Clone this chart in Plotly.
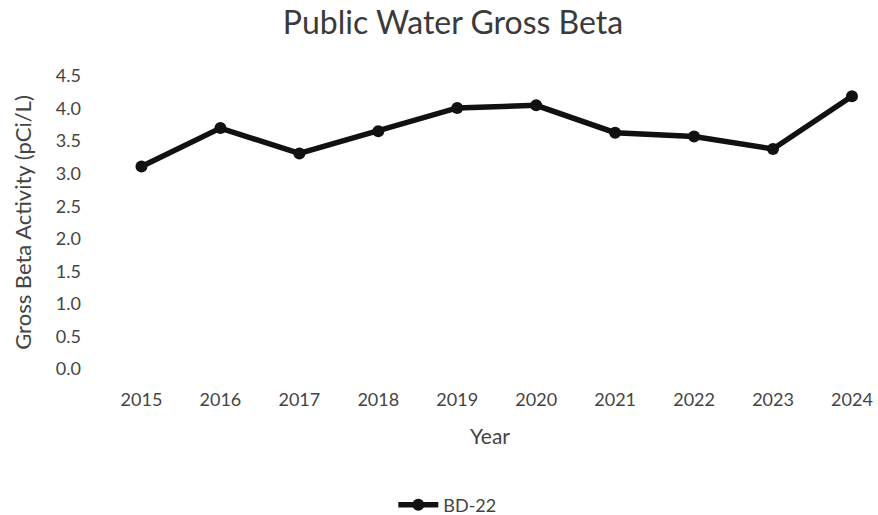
import plotly.graph_objects as go

# Annual gross beta results for public water sampling station BD-22
years = [2015, 2016, 2017, 2018, 2019, 2020, 2021, 2022, 2023, 2024]
gross_beta = [3.11, 3.70, 3.31, 3.65, 4.01, 4.05, 3.63, 3.57, 3.38, 4.19]
series_name = "BD-22"
y_ticks = [0.0, 0.5, 1.0, 1.5, 2.0, 2.5, 3.0, 3.5, 4.0, 4.5]

label_color = "#444444"
font_family = "Lato, 'Open Sans', sans-serif"

fig = go.Figure()
fig.add_trace(go.Scatter(
    x=years,
    y=gross_beta,
    mode="lines+markers",
    name=series_name,
    line=dict(color="#111111", width=5.5),
    marker=dict(color="#111111", size=12),
))

fig.update_layout(
    width=878,
    height=515,
    paper_bgcolor="white",
    plot_bgcolor="white",
    margin=dict(l=102, r=0, t=76, b=146, autoexpand=False),
    title=dict(
        text="Public Water Gross Beta",
        x=453 / 878,
        xanchor="center",
        y=1 - 23 / 515,
        yanchor="middle",
        font=dict(family=font_family, size=32, color="#3a3a3a"),
    ),
    font=dict(family=font_family, size=18, color=label_color),
    showlegend=True,
    legend=dict(
        orientation="h",
        x=0.445,
        xanchor="center",
        y=-0.464,
        yanchor="middle",
        font=dict(size=18, color=label_color),
        itemwidth=40,
    ),
)

fig.update_xaxes(
    range=[2014.5, 2024.33],
    tickvals=years,
    ticktext=[str(y) for y in years],
    showgrid=False,
    zeroline=False,
    showline=False,
    ticks="",
    ticklabelstandoff=18,
    automargin=False,
    title=dict(text="Year", font=dict(size=21, color=label_color), standoff=20),
)

fig.update_yaxes(
    range=[0, 4.5],
    tickvals=y_ticks,
    ticktext=[f"{v:.1f}" for v in y_ticks],
    showgrid=False,
    zeroline=False,
    showline=False,
    ticks="",
    ticklabelstandoff=20,
    automargin=False,
    title=dict(text="Gross Beta Activity (pCi/L)", font=dict(size=22, color=label_color), standoff=18),
)

fig.write_html("out.html")
